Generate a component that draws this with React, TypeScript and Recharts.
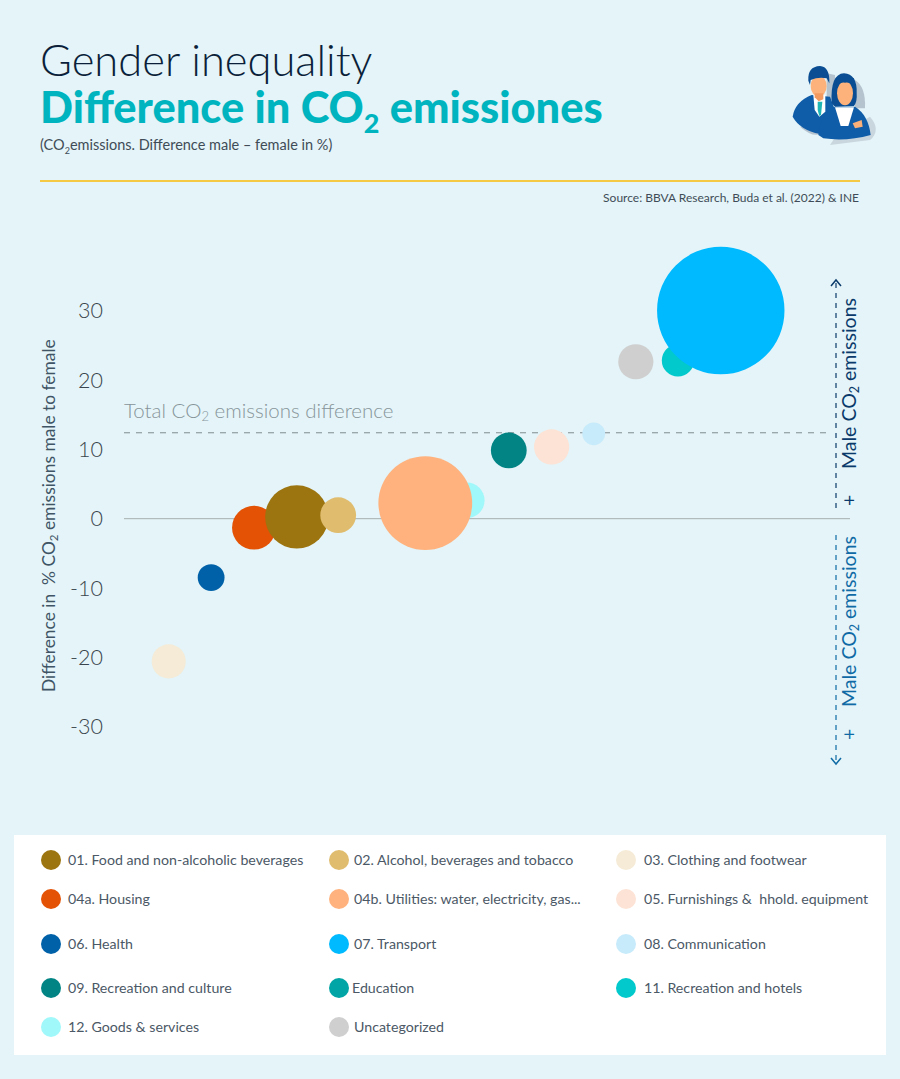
import { ScatterChart, Scatter, XAxis, YAxis, ZAxis, ReferenceLine } from "recharts";

const categories = [
  "03. Clothing and footwear", "06. Health", "04a. Housing", "01. Food and non-alcoholic beverages",
  "02. Alcohol, beverages and tobacco", "12. Goods & services", "04b. Utilities: water, electricity, gas...",
  "09. Recreation and culture", "05. Furnishings &  hhold. equipment", "08. Communication",
  "Uncategorized", "11. Recreation and hotels", "07. Transport",
];
const rankPosition = [6.16, 12, 17.9, 23.8, 29.5, 47.2, 41.5, 53, 58.9, 64.7, 70.5, 76.3, 82.2];
const difference = [-20.6, -8.5, -1.3, 0.25, 0.5, 2.65, 2.25, 9.85, 10.35, 12.25, 22.65, 22.85, 30.05];
const emissionShare = [2.9, 1.8, 4.8, 10, 3.2, 3.2, 22, 3.2, 3.1, 1.3, 3.1, 2.6, 40.6];
const bubbleColors = [
  "#f5ebd6", "#0061a8", "#e35205", "#9c7410", "#e0bc6e", "#a0f8fa", "#ffb27d",
  "#028484", "#fde3d5", "#c8ebfb", "#cfcfcf", "#02c9cb", "#00baff",
];
const yTicks = [-30, -20, -10, 0, 10, 20, 30];
const totalDifference = 12.4;

const legendNames = [
  ["01. Food and non-alcoholic beverages", "02. Alcohol, beverages and tobacco", "03. Clothing and footwear"],
  ["04a. Housing", "04b. Utilities: water, electricity, gas...", "05. Furnishings &  hhold. equipment"],
  ["06. Health", "07. Transport", "08. Communication"],
  ["09. Recreation and culture", "Education", "11. Recreation and hotels"],
  ["12. Goods & services", "Uncategorized"],
];
const legendColors = [
  ["#9c7410", "#e0bc6e", "#f5ebd6"],
  ["#e35205", "#ffb27d", "#fde3d5"],
  ["#0061a8", "#00baff", "#c8ebfb"],
  ["#028484", "#02a5a5", "#02c9cb"],
  ["#a0f8fa", "#cfcfcf"],
];

const FONT = "Lato, 'Open Sans', sans-serif";
const legendRowTop = [860, 899, 944, 988, 1027];
const legendDotLeft = [51, 339, 626];
const legendTextLeft = [68, 354, 644];

const Sub = () => <sub style={{ fontSize: "0.62em", lineHeight: 0 }}>2</sub>;

function Person() {
  return (
    <svg width={110} height={100} viewBox="0 0 330 300" style={{ position: "absolute", left: 780, top: 60 }}>
      <path d="M140 40 L165 45 L165 120 L140 120Z" fill="#b5c3cf" />
      <path d="M225 60 Q258 80 255 145 L225 145Z" fill="#b5c3cf" />
      <path d="M60 200 Q100 235 125 220 L100 190Z" fill="#b5c3cf" />
      <path d="M270 170 Q305 210 270 240 L150 255 L170 225Z" fill="#c9d6de" />
      <path d="M38 170 Q45 125 95 105 L150 110 L165 150 L120 222 Q60 210 38 170Z" fill="#0f5ca8" />
      <path d="M100 105 L136 105 L136 155 L118 170 L104 150Z" fill="#ffffff" />
      <path d="M113 125 L127 125 L123 165 L118 168 L113 150Z" fill="#1fb5b5" />
      <ellipse cx="116" cy="78" rx="24" ry="32" fill="#fdb27b" />
      <path d="M104 100 L130 100 L130 118 L116 124 L104 112Z" fill="#f39a60" />
      <path d="M85 62 Q82 20 120 18 Q150 20 148 70 L140 55 Q115 50 92 60 L90 75Z" fill="#0a4d92" />
      <path d="M155 130 Q150 42 192 40 Q232 42 230 100 Q232 125 222 138 L165 140Z" fill="#0a4d92" />
      <ellipse cx="195" cy="100" rx="24" ry="36" fill="#fdb27b" />
      <path d="M170 82 Q178 66 195 68 Q215 66 222 84 L222 55 L170 55Z" fill="#0a4d92" />
      <path d="M115 225 Q120 165 165 140 L225 140 Q265 165 272 225 Q200 245 130 235Z" fill="#0f5ca8" />
      <path d="M165 142 L222 142 L205 198 L182 198Z" fill="#ffffff" />
      <path d="M218 190 L245 180 L248 200 L225 205Z" fill="#fbb07a" />
    </svg>
  );
}

function Arrows() {
  const up = "#0a3a6b";
  const down = "#0f6aa5";
  return (
    <svg width={900} height={1079} style={{ position: "absolute", left: 0, top: 0, pointerEvents: "none" }}>
      <line x1={836} y1={508} x2={836} y2={282} stroke={up} strokeWidth={1.2} strokeDasharray="5 5" />
      <path d="M831 286 L836 280 L841 286" fill="none" stroke={up} strokeWidth={1.5} />
      <line x1={836} y1={535} x2={836} y2={762} stroke={down} strokeWidth={1.2} strokeDasharray="5 5" />
      <path d="M831 758 L836 764 L841 758" fill="none" stroke={down} strokeWidth={1.5} />
      <g fontFamily={FONT} fontSize={19.5}>
        <text transform="translate(856 469) rotate(-90)" fill={up}>
          Male CO<tspan fontSize={12.5} dy={3}>2</tspan><tspan dy={-3}> emissions</tspan>
        </text>
        <text transform="translate(856 707) rotate(-90)" fill={down}>
          Male CO<tspan fontSize={12.5} dy={3}>2</tspan><tspan dy={-3}> emissions</tspan>
        </text>
        <text transform="translate(856 506) rotate(-90)" fill={up}>+</text>
        <text transform="translate(856 740) rotate(-90)" fill={down}>+</text>
      </g>
      <text transform="translate(55 692) rotate(-90)" fontFamily={FONT} fontSize={17.4} fill="#3f5566" xmlSpace="preserve">
        Difference in  % CO<tspan fontSize={11.5} dy={3}>2</tspan><tspan dy={-3}> emissions male to female</tspan>
      </text>
      <text x={124} y={418} fontFamily={FONT} fontSize={20.5} fontWeight={300} fill="#87949a">
        Total CO<tspan fontSize={13} dy={3}>2</tspan><tspan dy={-3}> emissions difference</tspan>
      </text>
    </svg>
  );
}

export default function App() {
  return (
    <div style={{ position: "absolute", left: 0, top: 0, width: 900, height: 1079, background: "#e4f4f8", fontFamily: FONT, overflow: "hidden" }}>
      <div style={{ position: "absolute", left: 40, top: 33, fontSize: 43.5, fontWeight: 300, color: "#0b1f3a", whiteSpace: "nowrap" }}>Gender inequality</div>
      <div style={{ position: "absolute", left: 40, top: 80, fontSize: 43.4, fontWeight: 900, color: "#00b4bf", whiteSpace: "nowrap" }}>
        Difference in CO<Sub /> emissiones
      </div>
      <div style={{ position: "absolute", left: 40, top: 136, fontSize: 14.5, color: "#3f4c57", whiteSpace: "nowrap" }}>
        (CO<Sub />emissions. Difference male – female in %)
      </div>
      <div style={{ position: "absolute", left: 40, top: 180, width: 820, height: 2, background: "#f6c945" }} />
      <div style={{ position: "absolute", right: 41, top: 190, fontSize: 12, color: "#3f4c57", whiteSpace: "nowrap" }}>
        Source: BBVA Research, Buda et al. (2022) &amp; INE
      </div>
      <Person />

      <div style={{ position: "absolute", left: 0, top: 0 }}>
        <ScatterChart width={900} height={1079} margin={{ top: 310.5, right: 50, bottom: 352.5, left: 64 }}>
          <XAxis type="number" dataKey="x" domain={[0, 100]} hide />
          <YAxis
            type="number"
            dataKey="y"
            domain={[-30, 30]}
            ticks={yTicks}
            width={60}
            axisLine={false}
            tickLine={false}
            tickMargin={15}
            tick={{ fill: "#3a444c", fontSize: 21.5, fontFamily: FONT, fontWeight: 300 }}
          />
          <ZAxis type="number" dataKey="z" domain={[0, 41]} range={[0, 12880]} />
          <ReferenceLine y={0} stroke="#a7b0b0" strokeWidth={1} />
          <ReferenceLine
            segment={[{ x: 0, y: totalDifference }, { x: 96.7, y: totalDifference }]}
            stroke="#7f8c8f"
            strokeDasharray="6 6"
            strokeWidth={1}
          />
          {categories.map((name, i) => (
            <Scatter
              key={name}
              name={name}
              data={[{ x: rankPosition[i], y: difference[i], z: emissionShare[i] }]}
              fill={bubbleColors[i]}
              isAnimationActive={false}
            />
          ))}
        </ScatterChart>
      </div>
      <Arrows />

      <div style={{ position: "absolute", left: 14, top: 835, width: 872, height: 220, background: "#ffffff" }} />
      {legendNames.map((row, r) =>
        row.map((name, c) => (
          <div key={name}>
            <div style={{ position: "absolute", left: legendDotLeft[c] - 10, top: legendRowTop[r] - 10, width: 20, height: 20, borderRadius: 10, background: legendColors[r][c] }} />
            <div style={{ position: "absolute", left: legendTextLeft[c] - (name === "Education" ? 2 : 0), top: legendRowTop[r] - 10, fontSize: 14.2, lineHeight: "20px", color: "#4b5866", whiteSpace: "pre" }}>{name}</div>
          </div>
        )),
      )}
    </div>
  );
}
